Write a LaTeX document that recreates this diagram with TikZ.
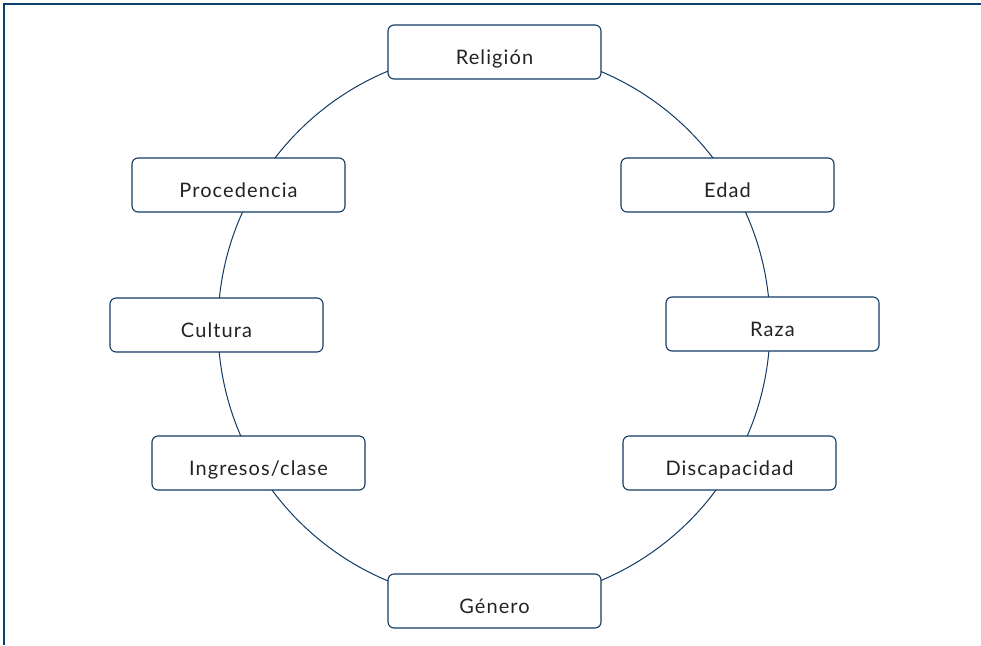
\documentclass[tikz,border=0pt]{standalone}
\usepackage{fontspec}
\setmainfont{Lato}[LetterSpace=5.5]
\definecolor{navy}{RGB}{18,58,100}
\definecolor{frame}{RGB}{15,65,110}
\definecolor{txt}{RGB}{35,35,35}
\newcommand\lowtxt[1]{\raisebox{-5pt}{#1}}
\begin{document}
\begin{tikzpicture}[x=1pt,y=-1pt,
  item/.style={draw=navy,line width=1.1pt,fill=white,rounded corners=6pt,
    minimum width=213pt,minimum height=54pt,inner sep=0pt,
    text height=14pt,text depth=0pt,
    font=\fontsize{20}{24}\selectfont,text=txt}]
\useasboundingbox (0,0) rectangle (981,645);
\draw[frame,line width=1.6pt] (4,645) -- (4,4) -- (981,4);
\coordinate (c) at (494,326);
\draw[navy,line width=1pt] (c) circle[radius=276pt];
\node[item] (rel) at (494.5,52) {\lowtxt{Religión}};
\node[item] (pro) at (238.5,185) {\lowtxt{Procedencia}};
\node[item] (eda) at (727.5,185) {\lowtxt{Edad}};
\node[item] (cul) at (216.5,325) {\lowtxt{Cultura}};
\node[item] (raz) at (772.5,324) {\lowtxt{Raza}};
\node[item] (ing) at (258.5,463) {\lowtxt{Ingresos/clase}};
\node[item] (dis) at (729.5,463) {\lowtxt{Discapacidad}};
\node[item] (gen) at (494.5,601) {\lowtxt{Género}};
\end{tikzpicture}
\end{document}
